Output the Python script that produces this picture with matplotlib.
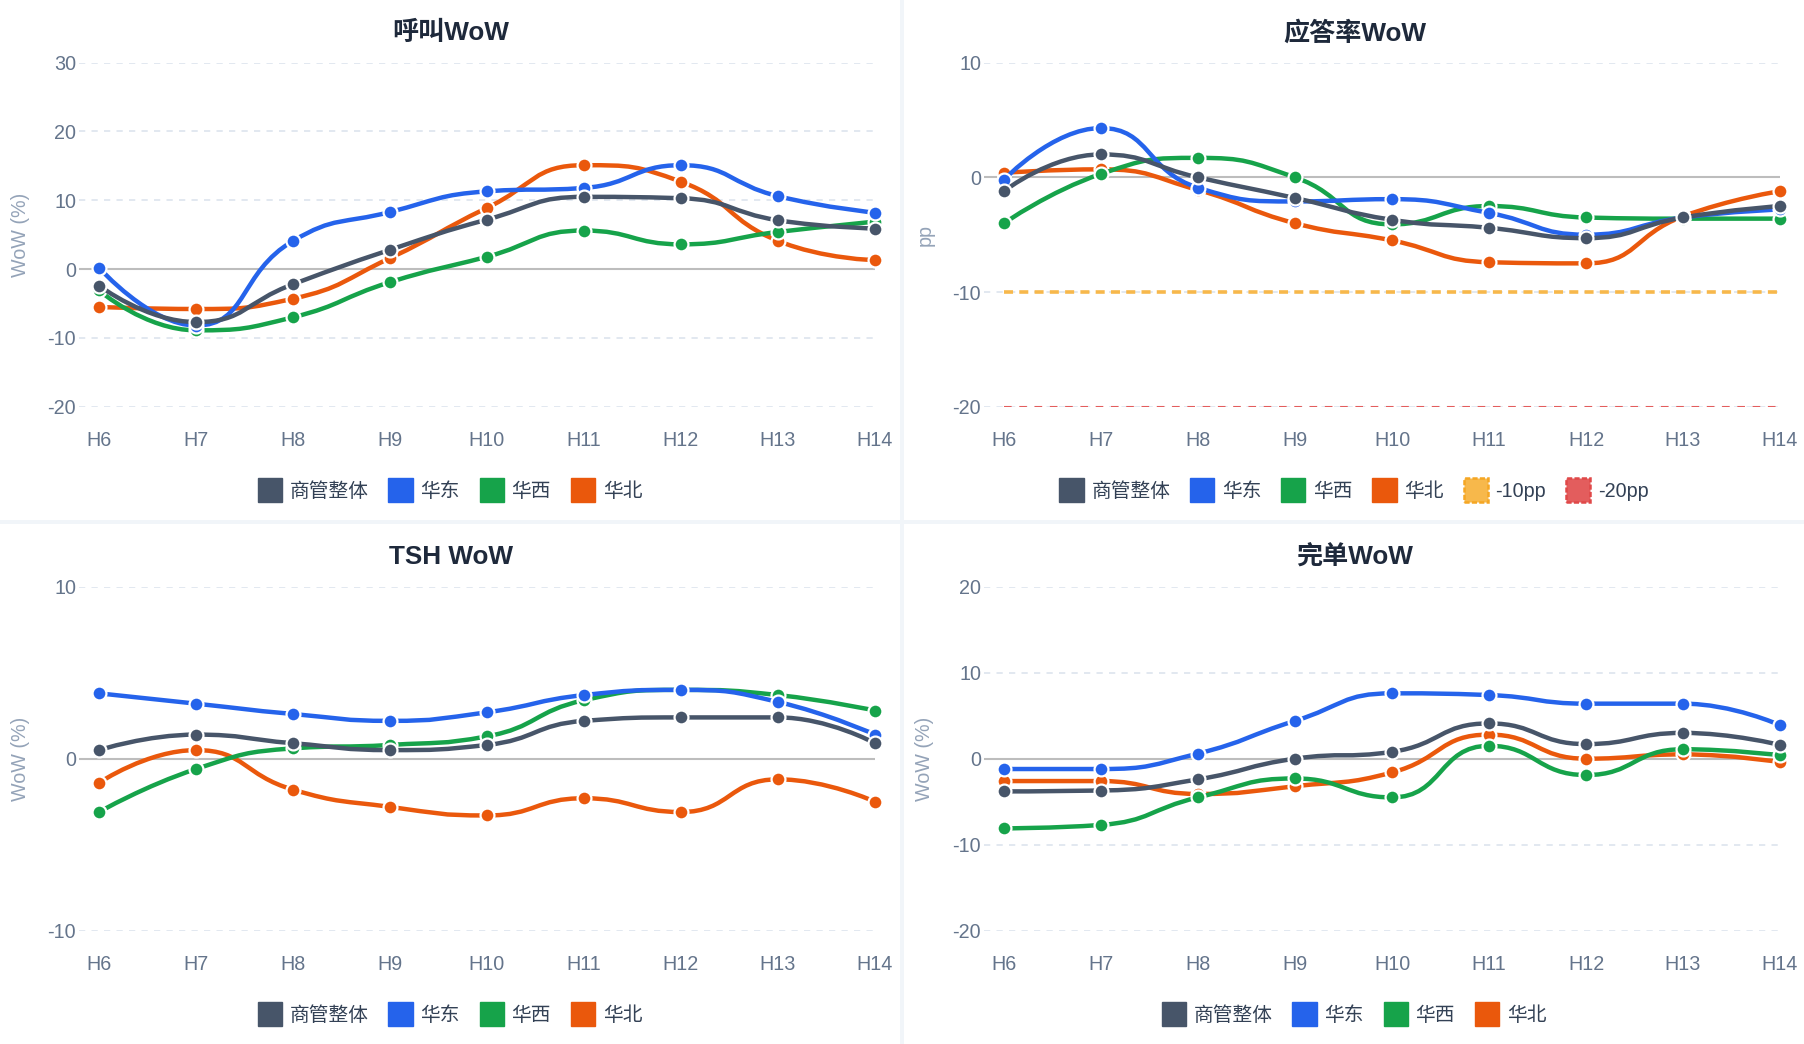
import numpy as np
import matplotlib
matplotlib.use('Agg')
import matplotlib.pyplot as plt
import matplotlib.patches as mpatches
from matplotlib.path import Path

plt.rcParams['font.family'] = ['Liberation Sans', 'Noto Sans CJK SC', 'DejaVu Sans']
plt.rcParams['lines.scale_dashes'] = False
plt.rcParams['axes.unicode_minus'] = False

# ---- data ----
hours = ['H6', 'H7', 'H8', 'H9', 'H10', 'H11', 'H12', 'H13', 'H14']
series_names = ['商管整体', '华东', '华西', '华北']

call_overall = [-2.4, -7.7, -2.2, 2.8, 7.2, 10.5, 10.3, 7.1, 5.9]
call_east = [0.2, -8.2, 4.1, 8.3, 11.3, 11.8, 15.1, 10.6, 8.2]
call_west = [-3.1, -8.9, -7.0, -1.9, 1.8, 5.6, 3.6, 5.4, 6.9]
call_north = [-5.5, -5.8, -4.3, 1.6, 8.9, 15.1, 12.7, 4.1, 1.3]

answer_overall = [-1.2, 2.0, 0.0, -1.8, -3.7, -4.4, -5.3, -3.5, -2.5]
answer_east = [-0.2, 4.3, -0.9, -2.1, -1.9, -3.1, -5.0, -3.5, -2.8]
answer_west = [-4.0, 0.3, 1.7, 0.0, -4.1, -2.5, -3.5, -3.6, -3.6]
answer_north = [0.4, 0.7, -1.1, -4.0, -5.5, -7.4, -7.5, -3.4, -1.2]

tsh_overall = [0.5, 1.4, 0.9, 0.5, 0.8, 2.2, 2.4, 2.4, 0.9]
tsh_east = [3.8, 3.2, 2.6, 2.2, 2.7, 3.7, 4.0, 3.3, 1.4]
tsh_west = [-3.1, -0.6, 0.6, 0.8, 1.3, 3.4, 4.0, 3.7, 2.8]
tsh_north = [-1.4, 0.5, -1.8, -2.8, -3.3, -2.3, -3.1, -1.2, -2.5]

done_overall = [-3.8, -3.7, -2.4, 0.0, 0.8, 4.1, 1.7, 3.0, 1.6]
done_east = [-1.2, -1.2, 0.6, 4.4, 7.6, 7.4, 6.4, 6.4, 3.9]
done_west = [-8.1, -7.7, -4.5, -2.3, -4.5, 1.5, -1.9, 1.1, 0.4]
done_north = [-2.6, -2.6, -4.1, -3.2, -1.6, 2.8, 0.0, 0.5, -0.4]

thresholds = [-10, -20]
threshold_names = ['-10pp', '-20pp']

colors = ['#475569', '#2563eb', '#16a34a', '#ea580c']
thr_colors = ['#f7b84b', '#e35d5d']
thr_edge = ['#f5a623', '#e04848']

W, H = 1804, 1044
fig = plt.figure(figsize=(W / 100, H / 100), dpi=100, facecolor='#f1f5f9')


def fx(px):
    return px / W


def fy(py):
    return 1 - py / H


def smooth_path(ys, sx, sy, smooth=0.5):
    # echarts-like bezier smoothing, computed in pixel space
    pts = [(i * sx, y * sy) for i, y in enumerate(ys)]
    n = len(pts)
    verts = [pts[0]]
    codes = [Path.MOVETO]
    cp0 = pts[0]
    for i in range(1, n):
        x, y = pts[i]
        px, py = pts[i - 1]
        if i == n - 1:
            cp1 = (x, y)
            ncp = None
        else:
            nx, ny = pts[i + 1]
            vx, vy = nx - px, ny - py
            d0 = np.hypot(x - px, y - py)
            d1 = np.hypot(nx - x, ny - y)
            r = d1 / (d0 + d1)
            ncx = x + vx * smooth * r
            ncy = y + vy * smooth * r
            ncx = max(min(ncx, max(nx, x)), min(nx, x))
            ncy = max(min(ncy, max(ny, y)), min(ny, y))
            vx, vy = ncx - x, ncy - y
            c1x = x - vx * d0 / d1
            c1y = y - vy * d0 / d1
            c1x = max(min(c1x, max(px, x)), min(px, x))
            c1y = max(min(c1y, max(py, y)), min(py, y))
            vx, vy = x - c1x, y - c1y
            ncp = (x + vx * d1 / d0, y + vy * d1 / d0)
            cp1 = (c1x, c1y)
        verts += [cp0, cp1, (x, y)]
        codes += [Path.CURVE4] * 3
        cp0 = ncp
    verts = [(a / sx, b / sy) for a, b in verts]
    return Path(verts, codes)


# card backgrounds
cards = [(0, 0, 900, 520), (904, 0, 1804, 520), (0, 524, 900, 1044), (904, 524, 1804, 1044)]
for x0, y0, x1, y1 in cards:
    fig.patches.append(mpatches.Rectangle((fx(x0), fy(y1)), fx(x1 - x0), (y1 - y0) / H,
                                          transform=fig.transFigure, facecolor='white',
                                          edgecolor='none', zorder=-5))

panels = [
    dict(title='呼叫WoW', data=[call_overall, call_east, call_west, call_north],
         ylim=(-20, 30), ticks=[-20, -10, 0, 10, 20, 30], ylabel='WoW (%)', thr=False),
    dict(title='应答率WoW', data=[answer_overall, answer_east, answer_west, answer_north],
         ylim=(-20, 10), ticks=[-20, -10, 0, 10], ylabel='pp', thr=True),
    dict(title='TSH WoW', data=[tsh_overall, tsh_east, tsh_west, tsh_north],
         ylim=(-10, 10), ticks=[-10, 0, 10], ylabel='WoW (%)', thr=False),
    dict(title='完单WoW', data=[done_overall, done_east, done_west, done_north],
         ylim=(-20, 20), ticks=[-20, -10, 0, 10, 20], ylabel='WoW (%)', thr=False),
]

ax_left = [79, 984]
ax_top = [62.7, 586.7]
ax_w, ax_h = 796, 344
step = ax_w / (8 + 20 / 97)
card_cx = [451, 1355]
card_top = [0, 524]
fs = 14.2

x = np.arange(len(hours))
z_order = {0: 8, 1: 6, 2: 4, 3: 2}

for k, p in enumerate(panels):
    col, row = k % 2, k // 2
    L, T = ax_left[col], ax_top[row]
    ax = fig.add_axes([fx(L), fy(T + ax_h), ax_w / W, ax_h / H])
    ax.set_facecolor('none')
    ax.set_xlim(-20 / 97, 8)
    ax.set_ylim(*p['ylim'])
    for s in ax.spines.values():
        s.set_visible(False)
    ax.set_xticks(x)
    ax.set_xticklabels(hours)
    ax.set_yticks(p['ticks'])
    ax.tick_params(length=0, labelsize=fs, colors='#64748b')
    ax.tick_params(axis='x', pad=17.5)
    ax.tick_params(axis='y', pad=2)

    for t in p['ticks']:
        if t == 0:
            ax.axhline(0, color='#bdbdbd', lw=1.5, zorder=1)
        else:
            ax.axhline(t, color='#e2e8f0', lw=1.4, dashes=(4.5, 4.5), zorder=1)

    yr = p['ylim'][1] - p['ylim'][0]
    sy = ax_h / yr
    for i in [3, 2, 1, 0]:
        ys = p['data'][i]
        path = smooth_path(ys, step, sy)
        ax.add_patch(mpatches.PathPatch(path, fill=False, edgecolor=colors[i], lw=3.2,
                                        capstyle='round', joinstyle='round',
                                        zorder=z_order[i], clip_on=False))
        ax.plot(x, ys, 'o', ms=10, mfc=colors[i], mec='white', mew=1.6,
                zorder=z_order[i] + 0.5, clip_on=False)

    handles = [mpatches.Patch(facecolor=colors[i], edgecolor=colors[i], label=series_names[i])
               for i in range(4)]
    if p['thr']:
        ax.plot([0, 8], [thresholds[0]] * 2, color=thr_colors[0], lw=2.6, dashes=(6.5, 4.5), zorder=1.5)
        ax.plot([0, 8], [thresholds[1]] * 2, color=thr_colors[1], lw=1.5, dashes=(5.5, 5.5), zorder=1.5)
        for j in range(2):
            handles.append(mpatches.Patch(facecolor=thr_colors[j], edgecolor=thr_edge[j],
                                          linestyle='--', lw=1.8, label=threshold_names[j]))

    fig.text(fx(card_cx[col]), fy(card_top[row] + 33), p['title'], ha='center', va='center',
             fontsize=18.8, fontweight='bold', color='#1e293b')
    fig.text(fx(L - 59), fy(T + ax_h / 2), p['ylabel'], rotation=90, ha='center', va='center',
             fontsize=fs, color='#94a3b8')

    leg = fig.legend(handles=handles, loc='center', ncol=len(handles),
                     bbox_to_anchor=(fx(card_cx[col] - 1), fy(card_top[row] + 490)),
                     frameon=False, fontsize=fs, handlelength=1.22, handleheight=1.5,
                     handletextpad=0.4, columnspacing=1.0, borderpad=0)
    for t in leg.get_texts():
        t.set_color('#334155')

fig.savefig('out.png', dpi=100, facecolor=fig.get_facecolor())
